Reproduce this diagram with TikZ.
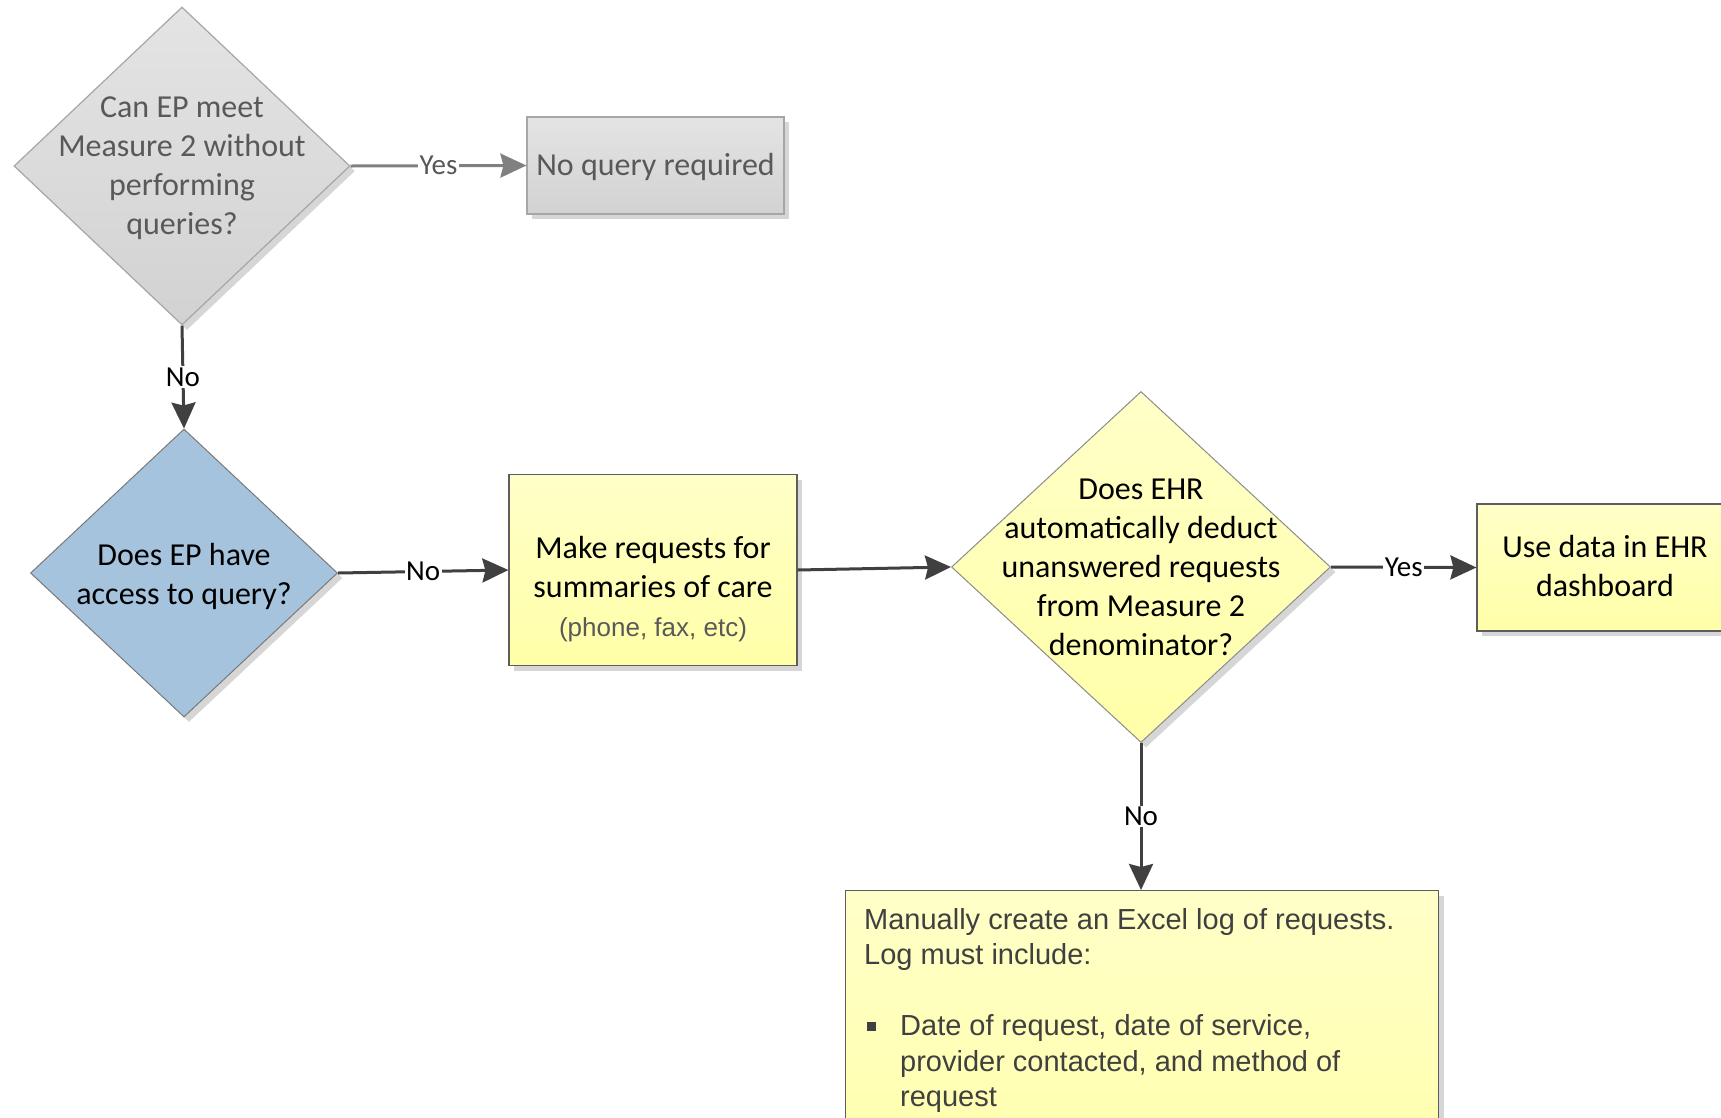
\documentclass[tikz,border=0pt]{standalone}
\usepackage{fontspec}
\setmainfont{Carlito}
\newfontfamily\arialf{Liberation Sans}
\usetikzlibrary{shapes.geometric,arrows.meta,shadows}
\definecolor{lnDark}{HTML}{404040}
\definecolor{lnGray}{HTML}{808080}
\definecolor{txGray}{HTML}{595959}
\definecolor{bdGray}{HTML}{A6A6A6}
\definecolor{gTop}{HTML}{E4E4E4}
\definecolor{gBot}{HTML}{D2D2D2}
\definecolor{blueF}{HTML}{A6C3DE}
\definecolor{yTop}{HTML}{FFFFC8}
\definecolor{yBot}{HTML}{FFFFA8}
\definecolor{shd}{HTML}{D6D6D6}
\begin{document}
\begin{tikzpicture}[x=1pt,y=-1pt,
  shad/.style={drop shadow={shadow xshift=5pt,shadow yshift=-5pt,fill=shd,opacity=1}},
  dia/.style={diamond,inner sep=0pt,shad},
  graybox/.style={draw=bdGray,line width=1.2pt,top color=gTop,bottom color=gBot,shad},
  yelbox/.style={draw=lnDark!85,line width=1.2pt,top color=yTop,bottom color=yBot,shad},
  bigtxt/.style={align=center,font=\fontsize{32}{39}\selectfont,inner sep=0pt},
  lbl/.style={midway,fill=white,inner sep=1.5pt,font=\fontsize{29}{32}\selectfont},
  conn/.style={line width=3pt,draw=lnDark,-{Stealth[length=26pt,width=24pt,inset=3pt]}},
  gconn/.style={line width=3pt,draw=lnGray,-{Stealth[length=26pt,width=24pt,inset=3pt]}}
]
\clip (0,0) rectangle (1721,1117);
\fill[white] (0,0) rectangle (1721,1117);

% diamonds
\node[dia,draw=bdGray,line width=1.2pt,top color=gTop,bottom color=gBot,minimum width=336pt,minimum height=318pt] (d1) at (182,166) {};
\node[bigtxt,text=txGray] (t1) at (182,168) {Can EP meet\\Measure 2 without\\performing\\queries?};

\node[graybox,minimum width=257pt,minimum height=97pt] (nq) at (655.5,165.5) {};
\node[bigtxt,text=txGray] (tnq) at (655.5,167) {No query required};

\node[dia,draw=lnDark!70,line width=1pt,fill=blueF,minimum width=307pt,minimum height=288pt] (d2) at (184,573) {};
\node[bigtxt,text=black] (t2) at (184,576) {Does EP have\\access to query?};

\node[yelbox,minimum width=288pt,minimum height=191pt] (mr) at (653,570) {};
\node[bigtxt,text=black] (tmr) at (653,589) {Make requests for\\summaries of care\\{\arialf\fontsize{26}{39}\selectfont\color{txGray}(phone, fax, etc)}};

\node[dia,draw=lnDark!60,line width=1pt,top color=yTop,bottom color=yBot,minimum width=379pt,minimum height=351pt] (d3) at (1141,567) {};
\node[bigtxt,text=black] (t3) at (d3.center) {Does EHR\\automatically deduct\\unanswered requests\\from Measure 2\\denominator?};

\node[yelbox,minimum width=256pt,minimum height=127pt] (ud) at (1605,567.5) {};
\node[bigtxt,text=black] (tud) at (1605,566) {Use data in EHR\\dashboard};

\node[yelbox,anchor=north west,minimum width=593pt,minimum height=330pt] (log) at (845,890) {};
\node[anchor=north west,inner sep=0pt,align=left,text=lnDark,font=\arialf\fontsize{29}{35.5}\selectfont] (tlog) at (864,908)
  {Manually create an Excel log of requests.\\Log must include:\\[35.5pt]
   \makebox[36pt][l]{\hspace{3pt}\raisebox{5pt}{\rule{9pt}{9pt}}}Date of request, date of service,\\
   \hspace{36pt}provider contacted, and method of\\
   \hspace{36pt}request};

% connectors
\draw[gconn] (d1.east) -- (nq.west) node[lbl,text=txGray]{Yes};
\draw[conn] (d1.south) -- (d2.north) node[lbl,text=black]{No};
\draw[conn] (d2.east) -- (mr.west) node[lbl,text=black]{No};
\draw[conn] (mr.east) -- (d3.west);
\draw[conn] (d3.east) -- (ud.west) node[lbl,text=black]{Yes};
\draw[conn] (d3.south) -- (d3.south |- log.north) node[lbl,text=black]{No};
\end{tikzpicture}
\end{document}
